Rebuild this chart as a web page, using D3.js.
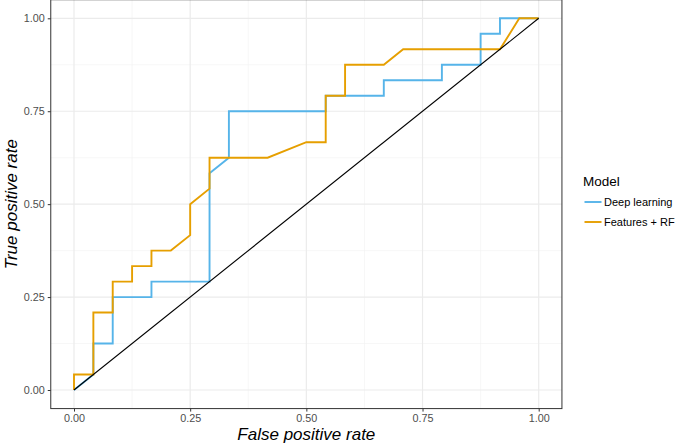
<!DOCTYPE html>
<html>
<head>
<meta charset="utf-8">
<script src="https://cdn.jsdelivr.net/npm/d3@7"></script>
<style>
  body { margin: 0; background: #fff; }
  text { font-family: "Liberation Sans", Arial, Helvetica, sans-serif; }
</style>
</head>
<body>
<svg id="chart" width="675" height="446"></svg>
<script>
// ROC points, in steps of 1/24 (24 negatives, 24 positives)
var deepFpr = [0, 1, 1, 2, 2, 4, 4, 7, 7, 8, 8, 13, 13, 16, 16, 19, 19, 21, 21, 22, 22, 24];
var deepTpr = [0, 1, 3, 3, 6, 6, 7, 7, 14, 15, 18, 18, 19, 19, 20, 20, 21, 21, 23, 23, 24, 24];
var rfFpr = [0, 0, 1, 1, 2, 2, 3, 3, 4, 4, 5, 6, 6, 7, 7, 10, 12, 13, 13, 14, 14, 16, 17, 22, 23, 24];
var rfTpr = [0, 1, 1, 5, 5, 7, 7, 8, 8, 9, 9, 10, 12, 13, 15, 15, 16, 16, 19, 19, 21, 21, 22, 22, 24, 24];
var steps = 24;
var modelNames = ['Deep learning', 'Features + RF'];
var modelColors = ['#56B4E9', '#E69F00'];
var tickValues = [0, 0.25, 0.5, 0.75, 1];
var minorValues = [0.125, 0.375, 0.625, 0.875];

var svg = d3.select('#chart');
var x = d3.scaleLinear().domain([0, 1]).range([74, 538.7]);
var y = d3.scaleLinear().domain([0, 1]).range([390, 18.3]);
var x0 = x(-0.05), x1 = x(1.05), y0 = y(-0.05), y1 = y(1.05);

// panel grid
var grid = svg.append('g');
grid.selectAll('line.minx').data(minorValues).enter().append('line')
  .attr('x1', d => x(d)).attr('x2', d => x(d)).attr('y1', y0).attr('y2', y1)
  .attr('stroke', '#f2f2f2').attr('stroke-width', 0.6);
grid.selectAll('line.miny').data(minorValues).enter().append('line')
  .attr('y1', d => y(d)).attr('y2', d => y(d)).attr('x1', x0).attr('x2', x1)
  .attr('stroke', '#f2f2f2').attr('stroke-width', 0.6);
grid.selectAll('line.majx').data(tickValues).enter().append('line')
  .attr('x1', d => x(d)).attr('x2', d => x(d)).attr('y1', y0).attr('y2', y1)
  .attr('stroke', '#ebebeb').attr('stroke-width', 1.2);
grid.selectAll('line.majy').data(tickValues).enter().append('line')
  .attr('y1', d => y(d)).attr('y2', d => y(d)).attr('x1', x0).attr('x2', x1)
  .attr('stroke', '#ebebeb').attr('stroke-width', 1.2);

// curves
var line = d3.line().x(d => x(d[0] / steps)).y(d => y(d[1] / steps));
var curves = [d3.zip(deepFpr, deepTpr), d3.zip(rfFpr, rfTpr)];
svg.append('g').selectAll('path').data(curves).enter().append('path')
  .attr('d', line)
  .attr('fill', 'none')
  .attr('stroke', (d, i) => modelColors[i])
  .attr('stroke-width', 1.9);

// chance diagonal
svg.append('line')
  .attr('x1', x(0)).attr('y1', y(0)).attr('x2', x(1)).attr('y2', y(1))
  .attr('stroke', '#000').attr('stroke-width', 1.1);

// panel border
svg.append('rect')
  .attr('x', x0).attr('y', y1).attr('width', x1 - x0).attr('height', y0 - y1)
  .attr('fill', 'none').attr('stroke', '#333').attr('stroke-width', 1);

// axes
var xAxis = d3.axisBottom(x).tickValues(tickValues).tickFormat(d3.format('.2f'))
  .tickSize(3).tickPadding(3);
var yAxis = d3.axisLeft(y).tickValues(tickValues).tickFormat(d3.format('.2f'))
  .tickSize(3).tickPadding(3);

var gx = svg.append('g').attr('transform', 'translate(0,' + y0 + ')').call(xAxis);
var gy = svg.append('g').attr('transform', 'translate(' + x0 + ',0)').call(yAxis);
[gx, gy].forEach(function(g) {
  g.select('.domain').remove();
  g.selectAll('.tick line').attr('stroke', '#333');
  g.selectAll('.tick text').attr('fill', '#4d4d4d')
    .style('font-size', '10.8px');
});

// axis titles
svg.append('text')
  .attr('x', (x0 + x1) / 2).attr('y', 440)
  .attr('text-anchor', 'middle')
  .style('font-size', '17px').style('font-style', 'italic')
  .text('False positive rate');
svg.append('text')
  .attr('transform', 'translate(17,' + ((y0 + y1) / 2) + ') rotate(-90)')
  .attr('text-anchor', 'middle')
  .style('font-size', '17px').style('font-style', 'italic')
  .text('True positive rate');

// legend
var legend = svg.append('g').attr('transform', 'translate(583,0)');
legend.append('text').attr('x', 0).attr('y', 186)
  .style('font-size', '13.5px').text('Model');
var items = legend.selectAll('g.item').data(modelNames).enter().append('g')
  .attr('transform', (d, i) => 'translate(0,' + (202 + i * 20) + ')');
items.append('line')
  .attr('x1', 1.5).attr('x2', 18.5).attr('y1', 0).attr('y2', 0)
  .attr('stroke', (d, i) => modelColors[i]).attr('stroke-width', 1.9);
items.append('text').attr('x', 21).attr('y', 0).attr('dy', '0.35em')
  .style('font-size', '11px').text(d => d);
</script>
</body>
</html>
